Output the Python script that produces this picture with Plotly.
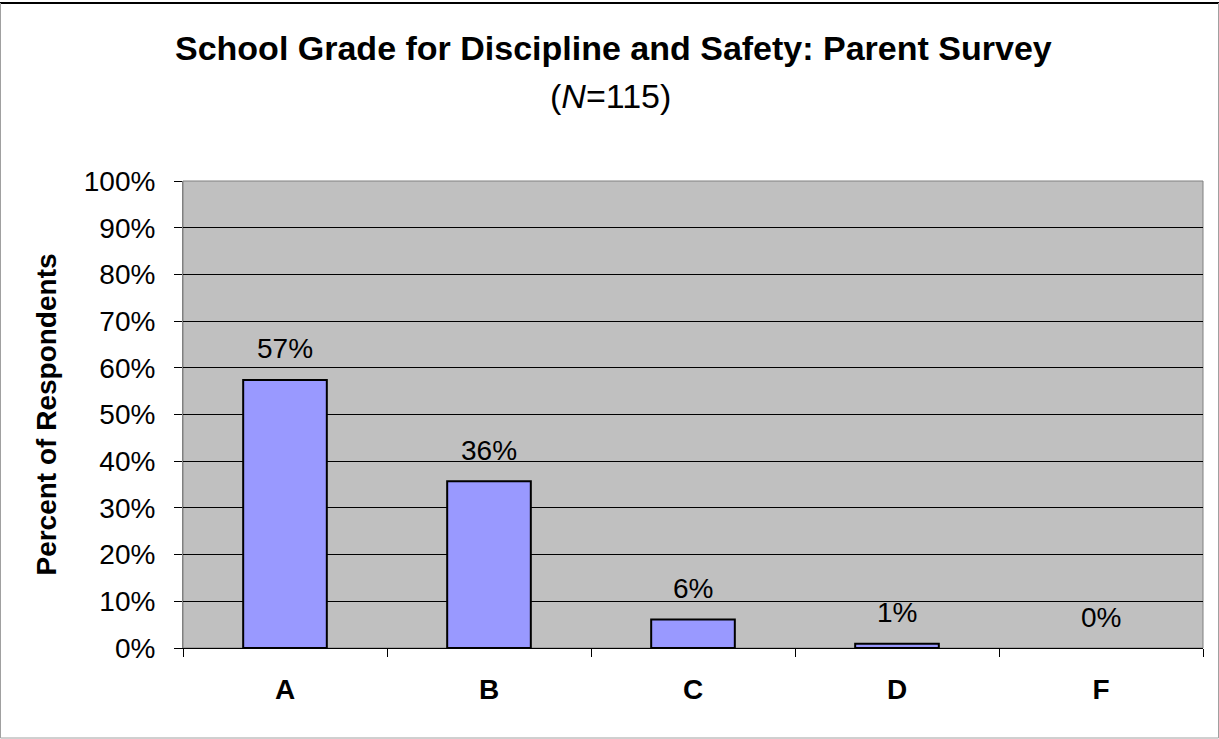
import plotly.graph_objects as go

grades = ["A", "B", "C", "D", "F"]
percents = [57.4, 35.7, 6.1, 0.9, 0.0]
labels = ["57%", "36%", "6%", "1%", "0%"]
y_ticks = list(range(0, 101, 10))
y_ticktext = [f"{v}%" for v in y_ticks]

FONT = "Liberation Sans, Arial, sans-serif"
W, H = 1219, 739
ML, MR, MT, MB = 183, 16, 181, 91
PW, PH = W - ML - MR, H - MT - MB


def px_x(x):
    return (x - ML) / PW


def px_y(y):
    return (H - MB - y) / PH


fig = go.Figure()
fig.add_trace(go.Bar(
    x=grades, y=percents, width=0.41,
    marker=dict(color="#9999FF",
                line=dict(color="black", width=[2 if v > 0 else 0 for v in percents])),
    hoverinfo="skip",
))

for g, v, t in zip(grades, percents, labels):
    fig.add_annotation(x=g, y=v, text=t, showarrow=False, yanchor="middle",
                       yshift=31, font=dict(family=FONT, size=28, color="black"))

# title lines
fig.add_annotation(xref="paper", yref="paper", x=px_x(613), y=px_y(48),
                   xanchor="center", yanchor="middle", showarrow=False,
                   text="<b>School Grade for Discipline and Safety: Parent Survey</b>",
                   font=dict(family=FONT, size=34, color="black"))
fig.add_annotation(xref="paper", yref="paper", x=px_x(610), y=px_y(96),
                   xanchor="center", yanchor="middle", showarrow=False,
                   text="(<i>N</i>=115)",
                   font=dict(family=FONT, size=34, color="black"))

fig.update_layout(
    width=W, height=H,
    margin=dict(l=ML, r=MR, t=MT, b=MB),
    paper_bgcolor="white", plot_bgcolor="#C0C0C0",
    showlegend=False,
    font=dict(family=FONT, color="black"),
)

fig.update_xaxes(
    type="category", tickson="boundaries", ticks="outside", ticklen=8,
    tickcolor="black", tickwidth=1, showline=True, linecolor="black", linewidth=1,
    tickfont=dict(family=FONT, size=28, color="black", weight="bold"),
    ticklabelstandoff=16,
    showgrid=False, fixedrange=True,
)
fig.update_yaxes(
    range=[0, 100], tickvals=y_ticks, ticktext=y_ticktext,
    ticks="outside", ticklen=8, tickcolor="black", tickwidth=1,
    showline=True, linecolor="#808080", linewidth=1,
    gridcolor="black", gridwidth=1, zeroline=False,
    tickfont=dict(family=FONT, size=28, color="black"),
    ticklabelstandoff=13,
    title=dict(text="<b>Percent of Respondents</b>", standoff=18,
               font=dict(family=FONT, size=28, color="black")),
    fixedrange=True,
)

# plot area border
fig.add_shape(type="rect", xref="paper", yref="paper", x0=0, x1=1, y0=0, y1=1,
              line=dict(color="#808080", width=1), layer="below")
# outer chart border
fig.add_shape(type="line", xref="paper", yref="paper",
              x0=px_x(0), x1=px_x(W), y0=px_y(3), y1=px_y(3),
              line=dict(color="black", width=2))
for (x0, y0, x1, y1) in [(0.5, 3, 0.5, 738), (0.5, 738, W - 0.5, 738), (W - 0.5, 3, W - 0.5, 738)]:
    fig.add_shape(type="line", xref="paper", yref="paper",
                  x0=px_x(x0), x1=px_x(x1), y0=px_y(y0), y1=px_y(y1),
                  line=dict(color="#A0A0A0", width=1))

fig.write_html("out.html", config={"displayModeBar": False},
               post_script="document.body.style.margin='0px';")
